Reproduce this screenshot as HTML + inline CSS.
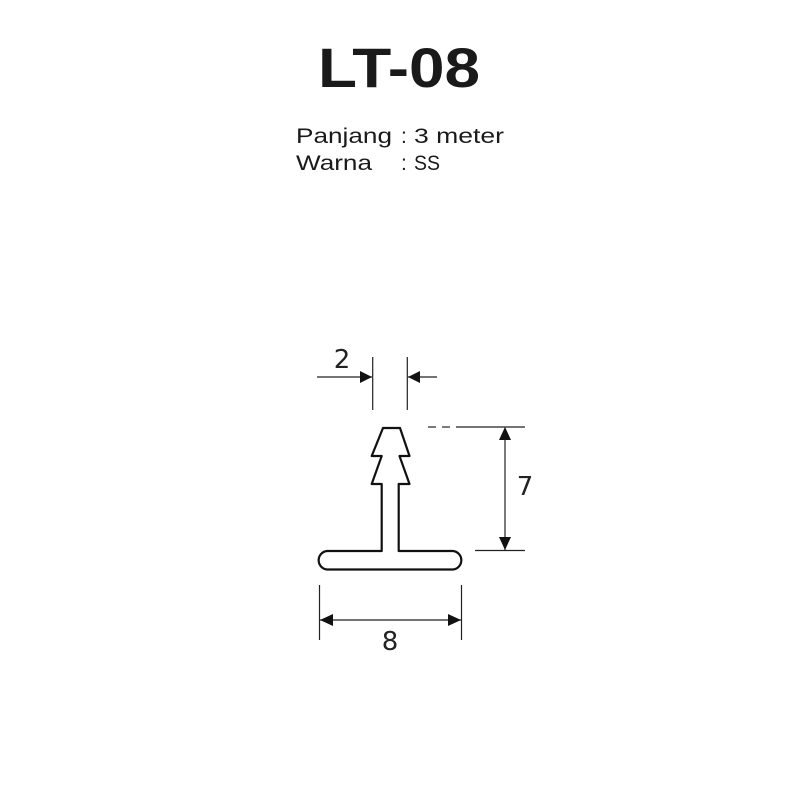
<!DOCTYPE html>
<html><head><style>
body{margin:0;width:800px;height:800px;background:#fff;overflow:hidden}
svg{position:absolute;left:0;top:0}
</style></head><body>
<svg width="800" height="800" xmlns="http://www.w3.org/2000/svg">
<text x="318" y="87" textLength="162" lengthAdjust="spacingAndGlyphs" font-family="Liberation Sans, sans-serif" font-weight="bold" font-size="56" fill="#1a1a1a">LT-08</text>
<g font-family="Liberation Sans, sans-serif" font-size="21" fill="#1a1a1a">
<text x="296" y="143" textLength="96" lengthAdjust="spacingAndGlyphs">Panjang</text>
<text x="401" y="143">:</text>
<text x="414" y="143" textLength="90" lengthAdjust="spacingAndGlyphs">3 meter</text>
<text x="296" y="170" textLength="76" lengthAdjust="spacingAndGlyphs">Warna</text>
<text x="401" y="170">:</text>
<text x="414" y="170" textLength="26" lengthAdjust="spacingAndGlyphs">SS</text>
</g>
<g fill="none" stroke="#111" stroke-width="2.2" stroke-linejoin="round">
<path d="M383,428 L400,428 L409.5,456 L399.5,456 L409.5,484 L398.7,484 L398.7,551 L453,551 A9.3,9.3 0 0 1 453,569.5 L327,569.5 A9.3,9.3 0 0 1 327,551 L381.7,551 L381.7,484 L371.7,484 L381.7,456 L371.7,456 Z"/>
</g>
<g stroke="#222" stroke-width="1.2" fill="none">
<line x1="372.7" y1="357" x2="372.7" y2="410"/>
<line x1="407.3" y1="357" x2="407.3" y2="410"/>
<line x1="317" y1="377" x2="372" y2="377"/>
<line x1="408" y1="377" x2="437" y2="377"/>
<line x1="428" y1="427" x2="436" y2="427"/>
<line x1="442" y1="427" x2="450" y2="427"/>
<line x1="456" y1="427" x2="525" y2="427"/>
<line x1="475" y1="550.5" x2="525" y2="550.5"/>
<line x1="505" y1="428" x2="505" y2="550"/>
<line x1="319.5" y1="585" x2="319.5" y2="640"/>
<line x1="461.5" y1="585" x2="461.5" y2="640"/>
<line x1="320" y1="620" x2="461" y2="620"/>
</g>
<g fill="#111">
<polygon points="372,377 360,371 360,383"/>
<polygon points="408,377 420,371 420,383"/>
<polygon points="505,427 499,440 511,440"/>
<polygon points="505,550 499,537 511,537"/>
<polygon points="320,620 333,614 333,626"/>
<polygon points="461,620 448,614 448,626"/>
</g>
<g font-family="DejaVu Sans, sans-serif" font-size="26" fill="#222">
<text x="342" y="368" text-anchor="middle">2</text>
<text x="525" y="495" text-anchor="middle">7</text>
<text x="390" y="650" text-anchor="middle">8</text>
</g>
</svg>
</body></html>
